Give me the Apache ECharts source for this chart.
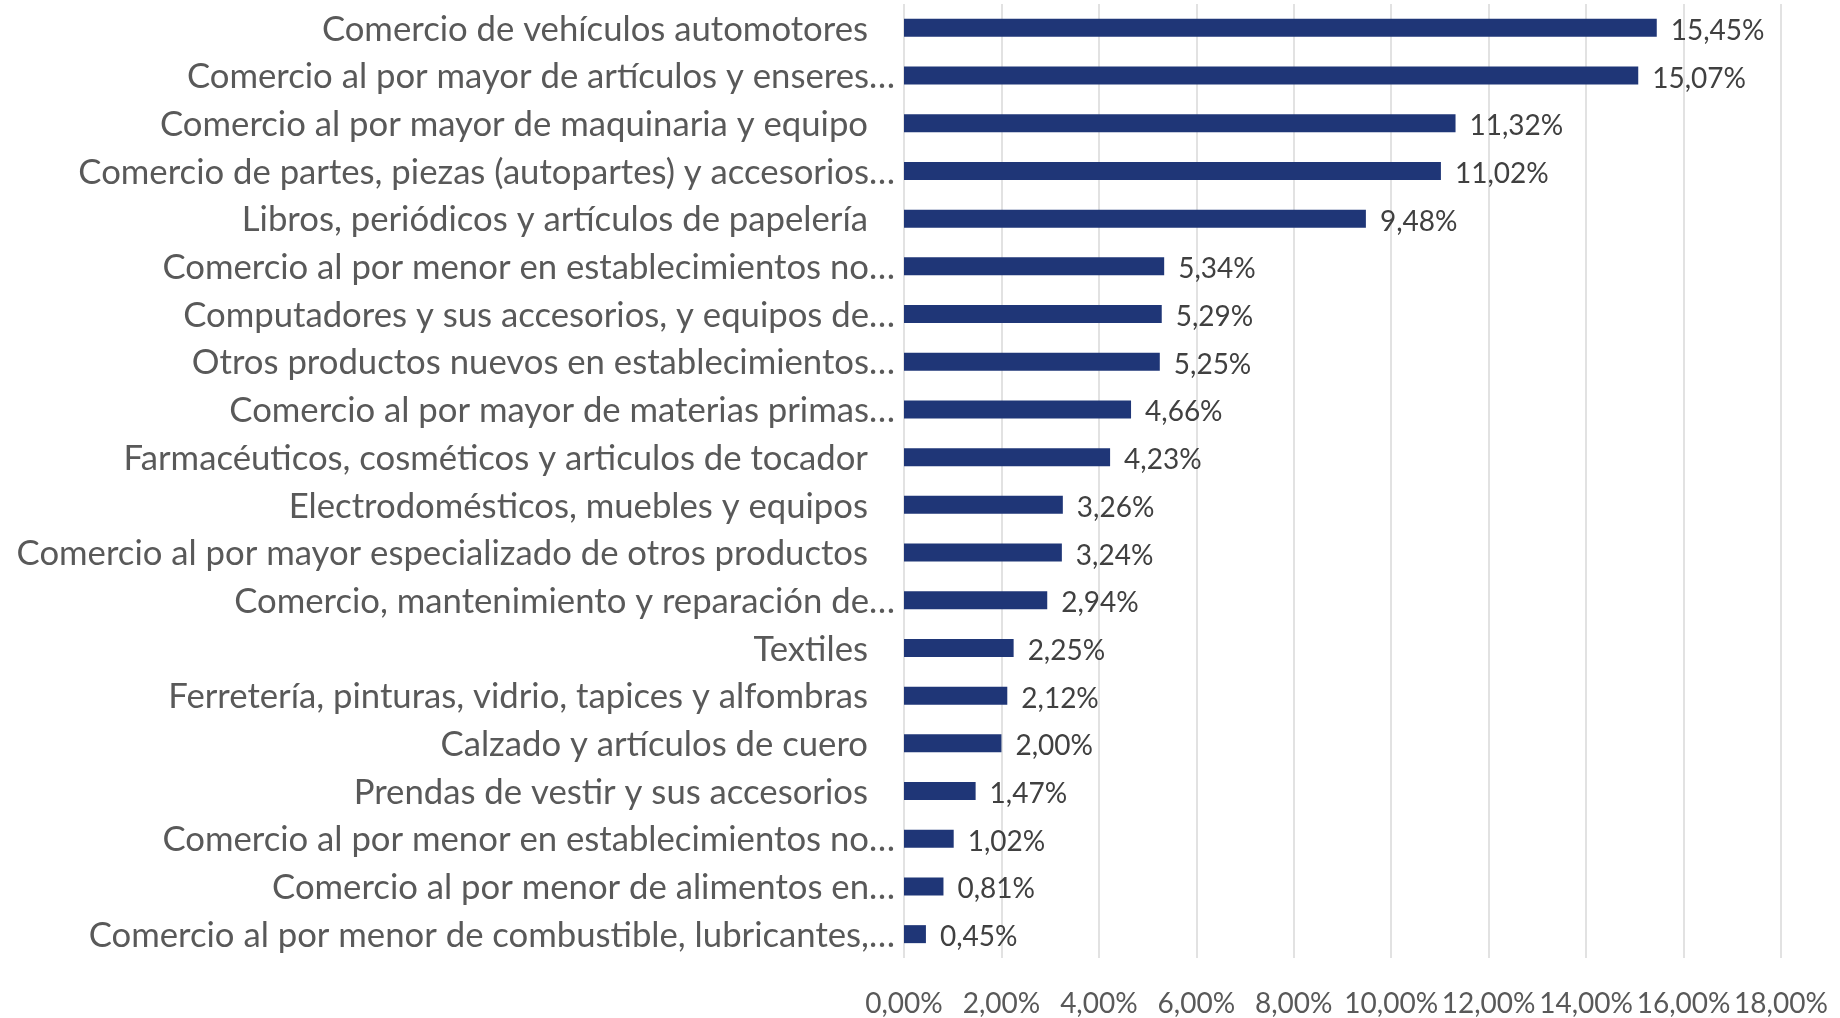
<!DOCTYPE html>
<html>
<head>
<meta charset="utf-8">
<script src="https://cdn.jsdelivr.net/npm/echarts@6/dist/echarts.min.js"></script>
<style>
  html, body { margin: 0; padding: 0; background: #fff; }
  #main { width: 1840px; height: 1018px; }
</style>
</head>
<body>
<div id="main"></div>
<script>
// categorias (de arriba hacia abajo)
var categorias = [
  'Comercio de vehículos automotores ',
  'Comercio al por mayor de artículos y enseres…',
  'Comercio al por mayor de maquinaria y equipo ',
  'Comercio de partes, piezas (autopartes) y accesorios…',
  'Libros, periódicos y artículos de papelería ',
  'Comercio al por menor en establecimientos no…',
  'Computadores y sus accesorios, y equipos de…',
  'Otros productos nuevos en establecimientos…',
  'Comercio al por mayor de materias primas…',
  'Farmacéuticos, cosméticos y articulos de tocador ',
  'Electrodomésticos, muebles y equipos ',
  'Comercio al por mayor especializado de otros productos ',
  'Comercio, mantenimiento y reparación de…',
  'Textiles ',
  'Ferretería, pinturas, vidrio, tapices y alfombras ',
  'Calzado y artículos de cuero ',
  'Prendas de vestir y sus accesorios ',
  'Comercio al por menor en establecimientos no…',
  'Comercio al por menor de alimentos en…',
  'Comercio al por menor de combustible, lubricantes,…'
];
// participacion (%)
var valores = [15.45, 15.07, 11.32, 11.02, 9.48, 5.34, 5.29, 5.25, 4.66, 4.23,
               3.26, 3.24, 2.94, 2.25, 2.12, 2.00, 1.47, 1.02, 0.81, 0.45];

var ejeMin = 0, ejeMax = 18, ejePaso = 2;

function pct(v){
  return v.toFixed(2).replace('.', ',') + '%';
}

var myChart = echarts.init(document.getElementById('main'));
var option = {
  animation: false,
  grid: { left: 904, right: 59, top: 4, bottom: 55, containLabel: false },
  xAxis: {
    type: 'value',
    min: ejeMin, max: ejeMax, interval: ejePaso,
    axisLine: { show: false },
    axisTick: { show: false },
    splitLine: { show: true, lineStyle: { color: '#d9d9d9', width: 1.5 } },
    axisLabel: {
      margin: 32,
      color: '#595959',
      fontFamily: 'Lato',
      fontSize: 28,
      hideOverlap: false,
      formatter: function(v){ return pct(v); }
    }
  },
  yAxis: {
    type: 'category',
    inverse: true,
    data: categorias,
    axisLine: { show: false },
    axisTick: { show: false },
    axisLabel: {
      margin: 9,
      color: '#595959',
      fontFamily: 'Lato',
      fontSize: 34.7,
      // las etiquetas completas llevan un espacio final, como en el original
      formatter: function(v){
        if (v.charAt(v.length - 1) === ' ') {
          return '{full|' + v.replace(/\s+$/, '') + '}';
        }
        return '{cut|' + v + '}';
      },
      rich: {
        full: { fontFamily: 'Lato', fontSize: 34.7, color: '#595959', padding: [3, 27, 0, 0] },
        cut:  { fontFamily: 'Lato', fontSize: 34.7, color: '#595959', padding: [3, 0, 0, 0] }
      }
    }
  },
  series: [{
    type: 'bar',
    data: valores,
    barWidth: 18,
    itemStyle: { color: '#1f3677' },
    label: {
      show: true,
      position: 'right',
      distance: 14,
      offset: [0, 3],
      color: '#404040',
      fontFamily: 'Lato',
      fontSize: 28,
      formatter: function(p){ return pct(p.value); }
    }
  }]
};
myChart.setOption(option);
</script>
</body>
</html>
